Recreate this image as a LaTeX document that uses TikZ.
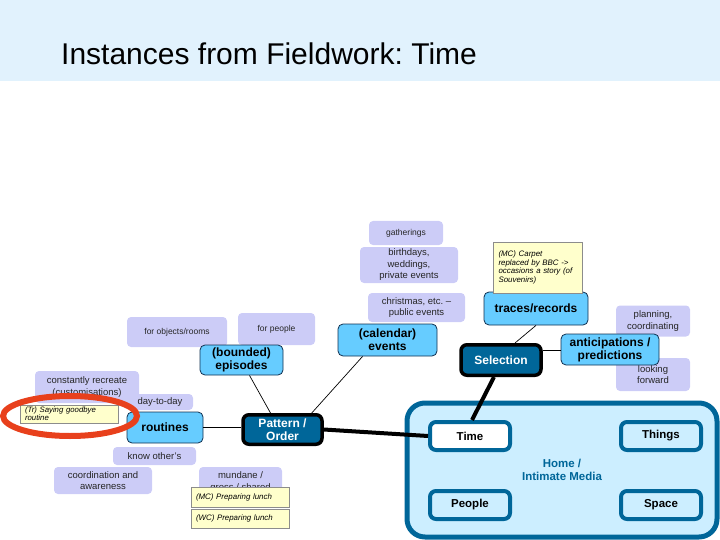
\documentclass[tikz,border=0pt]{standalone}
\usepackage{fontspec}
\setmainfont{Liberation Sans}
\setsansfont{Liberation Sans}
\usepackage{tikz}
\usetikzlibrary{positioning,calc}
\frenchspacing

\definecolor{bandblue}{RGB}{225,242,253}
\definecolor{lavender}{RGB}{204,204,247}
\definecolor{skyblue}{RGB}{102,204,255}
\definecolor{navy}{RGB}{16,48,80}
\definecolor{deepblue}{RGB}{0,102,153}
\definecolor{paleblue}{RGB}{204,238,255}
\definecolor{noteyellow}{RGB}{255,255,204}
\definecolor{markred}{RGB}{232,64,28}

\begin{document}
\begin{tikzpicture}[
    x=1pt, y=-1pt,
    font=\sffamily,
    idea/.style={rectangle, rounded corners=4pt, fill=lavender, inner sep=1pt, align=center, text=black!85, font=\fontsize{9.5}{11.5}\selectfont},
    small/.style={font=\fontsize{8.5}{10}\selectfont},
    topic/.style={rectangle, rounded corners=5pt, draw=navy, line width=0.8pt, fill=skyblue, inner sep=1pt, align=center, font=\fontsize{12}{13}\selectfont\bfseries},
    hub/.style={rectangle, rounded corners=6pt, draw=black, line width=3.5pt, fill=deepblue, text=white, inner sep=1pt, align=center, font=\fontsize{12}{13.5}\selectfont\bfseries},
    note/.style={rectangle, draw=black!45, fill=noteyellow, inner xsep=5pt, inner ysep=1pt, align=left, font=\fontsize{7.9}{8.8}\selectfont\itshape},
    facet/.style={rectangle, rounded corners=6pt, draw=deepblue, line width=4pt, fill=paleblue, minimum width=80pt, minimum height=28pt, font=\fontsize{11.5}{13}\selectfont\bfseries},
    link/.style={draw=black, line width=0.7pt},
    strong/.style={draw=black, line width=4pt}
]

\useasboundingbox (0,0) rectangle (720,540);
\fill[bandblue] (0,0) rectangle (720,81);
\node[anchor=west, inner sep=0pt, font=\fontsize{30}{36}\selectfont] (title) at (61,54) {Instances from Fieldwork: Time};

% lilac sub-ideas
\node[idea, small, minimum width=74pt, minimum height=24pt] (gatherings) at (406,233) {gatherings};
\node[idea, minimum width=98pt, minimum height=36pt] (private) at (409,265) {birthdays,\\ weddings,\\ private events};
\node[idea, minimum width=97pt, minimum height=29pt] (public) at (416.5,307.5) {christmas, etc. --\\ public events};
\node[idea, small, minimum width=100pt, minimum height=30pt] (objects) at (177,332) {for objects/rooms};
\node[idea, small, minimum width=77pt, minimum height=32pt] (people) at (276.5,329) {for people};
\node[idea, minimum width=104pt, minimum height=32pt] (recreate) at (87,387) {constantly recreate\\ (customisations)};
\node[idea, minimum width=66pt, minimum height=16pt] (daytoday) at (160,402) {day-to-day};
\node[idea, minimum width=83pt, minimum height=18pt] (knowothers) at (154.5,456) {know other's};
\node[idea, minimum width=98pt, minimum height=27pt] (awareness) at (103,480.5) {coordination and\\ awareness};
\node[idea, minimum width=83pt, minimum height=30pt] (mundane) at (240.5,482) {mundane /\\ gross / shared};
\node[idea, minimum width=74pt, minimum height=31pt] (planning) at (653,321) {planning,\\ coordinating};
\node[idea, minimum width=74pt, minimum height=33pt] (forward) at (653,374.5) {looking\\ forward};

% home / intimate media
\node[rectangle, rounded corners=18pt, draw=deepblue, line width=5pt, fill=paleblue, minimum width=310pt, minimum height=134pt,
  text=deepblue, align=center, font=\fontsize{11.5}{13}\selectfont\bfseries] (media) at (562,470) {Home /\\ Intimate Media};
\node[facet, fill=white] (time) at (470,436) {Time};
\node[facet] (things) at (661,436) {Things};
\node[facet] (persons) at (470,505) {People};
\node[facet] (space) at (661,505) {Space};

% topics
\node[topic, minimum width=104pt, minimum height=33pt] (traces) at (536,308.5) {traces/records};
\node[topic, minimum width=99pt, minimum height=32pt] (calendar) at (387.5,340) {(calendar)\\ events};
\node[topic, minimum width=83pt, minimum height=30pt] (episodes) at (241.5,360) {(bounded)\\ episodes};
\node[topic, minimum width=98pt, minimum height=31pt] (anticipations) at (610,349.5) {anticipations /\\ predictions};
\node[topic, minimum width=76pt, minimum height=31pt] (routines) at (165,427.5) {routines};

\node[hub, minimum width=79pt, minimum height=29.5pt] (pattern) at (282.5,429.5) {Pattern /\\ Order};
\node[hub, minimum width=80pt, minimum height=30.5pt] (selection) at (501,360) {Selection};

% fieldwork notes
\node[note, text width=78pt, minimum width=89pt, minimum height=51pt] (carpet) at (537.5,267.5) {(MC) Carpet\\ replaced by BBC ->\\ occasions a story (of\\ Souvenirs)};
\node[note, text width=88pt, minimum height=18pt, font=\fontsize{7.8}{8.4}\selectfont\itshape, inner ysep=0.5pt] (goodbye) at (69,414) {(Tr) Saying goodbye\\ routine};
\node[note, text width=88pt, minimum height=20pt] (lunchmc) at (240,497) {(MC) Preparing lunch};
\node[note, text width=88pt, minimum height=19pt] (lunchwc) at (240,518.5) {(WC) Preparing lunch};

\coordinate (selout) at ([yshift=10pt]selection.east);
\draw[link] (routines) -- (routines -| pattern.west);
\draw[link] ([xshift=8pt]episodes.south) -- ([xshift=-12pt]pattern.north);
\draw[link] ([xshift=25pt]calendar.south west) -- ([xshift=-12pt]pattern.north east);
\draw[link] ([xshift=14pt]selection.north) -- (traces.south);
\draw[link] (selout) -- (selout -| anticipations.west);
\draw[strong] (pattern.east) -- (time.west);
\draw[strong] ([xshift=-7pt]selection.south) -- ([xshift=2pt]time.north);

\draw[markred, line width=6pt] (70,416) ellipse [x radius=67pt, y radius=20pt];

\end{tikzpicture}
\end{document}
